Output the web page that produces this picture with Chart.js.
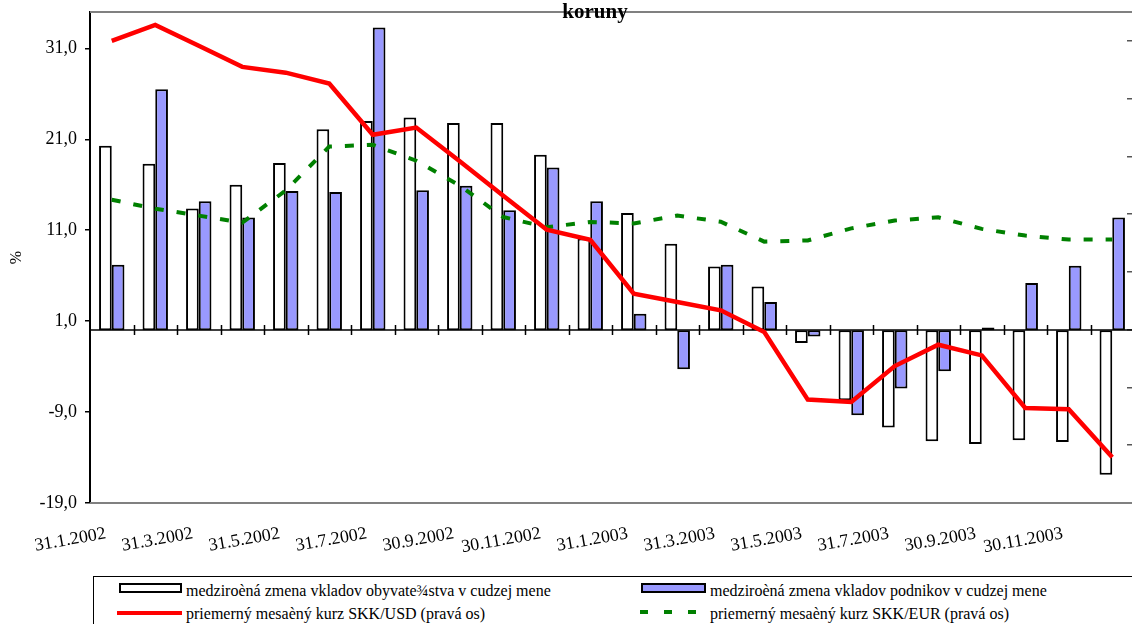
<!DOCTYPE html>
<html>
<head>
<meta charset="utf-8">
<title>koruny</title>
<script src="https://cdn.jsdelivr.net/npm/chart.js@4.4.1/dist/chart.umd.min.js"></script>
<style>
  body {
    margin: 0;
    width: 1132px;
    height: 624px;
    overflow: hidden;
    background: #fff;
    position: relative;
    font-family: "Liberation Serif", "Times New Roman", serif;
  }
  #chart { position: absolute; left: 0; top: 0; }
  .legend-box {
    position: absolute; left: 93px; top: 576px; width: 1100px; height: 80px;
    border-top: 1px solid #000; border-left: 1px solid #000;
  }
  .sample { position: absolute; box-sizing: border-box; }
  .txt {
    position: absolute; font-size: 16px; line-height: 16px; white-space: nowrap; color: #000;
  }
</style>
</head>
<body>
<canvas id="chart" width="1200" height="560"></canvas>

<div class="legend-box"></div>
<div id="legend"></div>

<script>
// month ends, Jan 2002 - Dec 2003
const months = [
  '31.1.2002', '28.2.2002', '31.3.2002', '30.4.2002', '31.5.2002', '30.6.2002',
  '31.7.2002', '31.8.2002', '30.9.2002', '31.10.2002', '30.11.2002', '31.12.2002',
  '31.1.2003', '28.2.2003', '31.3.2003', '30.4.2003', '31.5.2003', '30.6.2003',
  '31.7.2003', '31.8.2003', '30.9.2003', '31.10.2003', '30.11.2003', '31.12.2003'
];

// y/y change of deposits in foreign currency, % (left axis)
const householdChange = [20.3, 18.3, 13.4, 16.0, 18.4, 22.1, 23.0, 23.4, 22.8, 22.8, 19.3, 10.1,
                         12.9, 9.5, 7.0, 4.8, -1.4, -7.7, -10.7, -12.2, -12.5, -12.1, -12.3, -15.9];
const firmChange = [7.2, 26.5, 14.2, 12.4, 15.3, 15.2, 33.3, 15.4, 15.9, 13.2, 17.9, 14.2,
                    1.8, -4.3, 7.2, 3.1, -0.7, -9.35, -6.4, -4.5, 0.3, 5.2, 7.1, 12.4];

// average monthly exchange rates (right axis)
const usdRate = [48.0, 48.55, 47.83, 47.1, 46.9, 46.52, 44.75, 45.0, 43.83, 42.64, 41.46, 41.11,
                 39.25, 38.96, 38.67, 37.92, 35.58, 35.5, 36.74, 37.48, 37.11, 35.29, 35.25, 33.58];
const eurRate = [42.5, 42.19, 41.95, 41.71, 42.82, 44.34, 44.4, 43.85, 42.99, 41.9, 41.55, 41.73,
                 41.68, 41.95, 41.74, 41.05, 41.09, 41.51, 41.78, 41.89, 41.49, 41.26, 41.12, 41.12];

const leftTicks = [-19, -9, 1, 11, 21, 31];
const rightTicks = [32, 34, 36, 38, 40, 42, 44, 46, 48];

const seriesNames = [
  'medziroèná zmena vkladov obyvate¾stva v cudzej mene',
  'medziroèná zmena vkladov podnikov v cudzej mene',
  'priemerný mesaèný kurz SKK/USD (pravá os)',
  'priemerný mesaèný kurz SKK/EUR (pravá os)'
];

const serif = '"Liberation Serif", "Times New Roman", serif';

// plot frame, category axis crossing at zero, and the clipped title
const decor = {
  id: 'decor',
  beforeDatasetsDraw(chart) {
    const { ctx, chartArea: a, scales } = chart;
    const x = scales.x, y = scales.y;
    ctx.save();
    ctx.strokeStyle = '#808080';
    ctx.lineWidth = 2;
    ctx.beginPath();
    ctx.moveTo(a.left, a.top); ctx.lineTo(a.right, a.top);
    ctx.moveTo(a.left, a.bottom); ctx.lineTo(a.right, a.bottom);
    ctx.stroke();

    const y0 = Math.round(y.getPixelForValue(0));
    const step = x.getPixelForValue(1) - x.getPixelForValue(0);
    ctx.strokeStyle = '#000';
    ctx.lineWidth = 1.5;
    ctx.beginPath();
    ctx.moveTo(a.left, y0); ctx.lineTo(a.right, y0);
    for (let i = 0; i < months.length; i++) {
      const px = Math.round(x.getPixelForValue(i) + step / 2) + 0.5;
      ctx.moveTo(px, y0 - 5); ctx.lineTo(px, y0 + 5);
    }
    ctx.stroke();
    ctx.restore();
  },
  afterDraw(chart) {
    const ctx = chart.ctx;
    ctx.save();
    ctx.font = 'bold 21px ' + serif;
    ctx.fillStyle = '#000';
    ctx.textAlign = 'center';
    ctx.textBaseline = 'alphabetic';
    ctx.fillText('koruny', 595, 17.5);
    ctx.restore();
  }
};

new Chart(document.getElementById('chart'), {
  type: 'bar',
  data: {
    labels: months,
    datasets: [
      {
        label: seriesNames[0], data: householdChange, yAxisID: 'y',
        backgroundColor: '#ffffff', borderColor: '#000000', borderWidth: 2, borderSkipped: false,
        categoryPercentage: 0.584, barPercentage: 1.0, order: 1
      },
      {
        label: seriesNames[1], data: firmChange, yAxisID: 'y',
        backgroundColor: '#9999ff', borderColor: '#000000', borderWidth: 2, borderSkipped: false,
        categoryPercentage: 0.584, barPercentage: 1.0, order: 1
      },
      {
        type: 'line', label: seriesNames[2], data: usdRate, yAxisID: 'y1',
        borderColor: '#ff0000', borderWidth: 4.5, pointRadius: 0, tension: 0, fill: false, order: 0
      },
      {
        type: 'line', label: seriesNames[3], data: eurRate, yAxisID: 'y1',
        borderColor: '#008000', borderWidth: 4, borderDash: [9, 13], borderCapStyle: 'butt',
        pointRadius: 0, tension: 0, fill: false, order: 0
      }
    ]
  },
  options: {
    responsive: false,
    animation: false,
    layout: { autoPadding: false, padding: { top: 12, left: 0, right: 0, bottom: 0 } },
    plugins: {
      legend: { display: false },
      title: { display: false },
      tooltip: { enabled: false }
    },
    scales: {
      x: {
        offset: true,
        grid: { display: false, drawTicks: false, tickLength: 0 },
        border: { display: false },
        afterFit: s => { s.height = 57; },
        ticks: {
          autoSkip: false, minRotation: 10, maxRotation: 10,
          padding: 20, labelOffset: -6, color: '#000',
          font: { family: serif, size: 18 },
          callback: (v, i) => (i % 2 === 0 ? months[i] : '')
        }
      },
      y: {
        position: 'left',
        min: -19, max: 35,
        afterBuildTicks: s => { s.ticks = leftTicks.map(v => ({ value: v })); },
        afterFit: s => { s.width = 90; s.paddingTop = 0; s.paddingBottom = 0; },
        grid: { drawOnChartArea: false, tickLength: 5, color: '#000', lineWidth: 1.5 },
        border: { color: '#000', width: 2 },
        ticks: {
          padding: 8, color: '#000',
          font: { family: serif, size: 18 },
          callback: v => v.toFixed(1).replace('.', ',')
        },
        title: {
          display: true, text: '%', color: '#000',
          font: { family: serif, size: 16 },
          padding: { top: 7, bottom: 0 }
        }
      },
      y1: {
        position: 'right',
        min: 32, max: 49,
        afterBuildTicks: s => { s.ticks = rightTicks.map(v => ({ value: v })); },
        afterFit: s => { s.width = 66; s.paddingTop = 0; s.paddingBottom = 0; },
        grid: { drawOnChartArea: false, tickLength: -7, color: '#555', lineWidth: 1.5 },
        border: { display: false },
        ticks: { display: false }
      }
    }
  },
  plugins: [decor]
});

// legend, two columns like the original
const legendItems = [
  { sample: 'left:119px;top:583px;width:63px;height:10px;border:2px solid #000;background:#fff;', x: 186, y: 583 },
  { sample: 'left:641px;top:583px;width:65px;height:10px;border:2px solid #000;background:#9999ff;', x: 710, y: 583 },
  { sample: 'left:117px;top:611px;width:65px;height:4px;background:#ff0000;', x: 186, y: 606 },
  { sample: 'left:640px;top:610px;width:58px;height:4px;background:repeating-linear-gradient(90deg,#008000 0 8px,transparent 8px 24px);', x: 710, y: 606 }
];
const legendEl = document.getElementById('legend');
legendItems.forEach((it, i) => {
  const s = document.createElement('div');
  s.className = 'sample';
  s.style.cssText = it.sample;
  legendEl.appendChild(s);
  const t = document.createElement('div');
  t.className = 'txt';
  t.style.left = it.x + 'px';
  t.style.top = it.y + 'px';
  t.textContent = seriesNames[i];
  legendEl.appendChild(t);
});
</script>
</body>
</html>
